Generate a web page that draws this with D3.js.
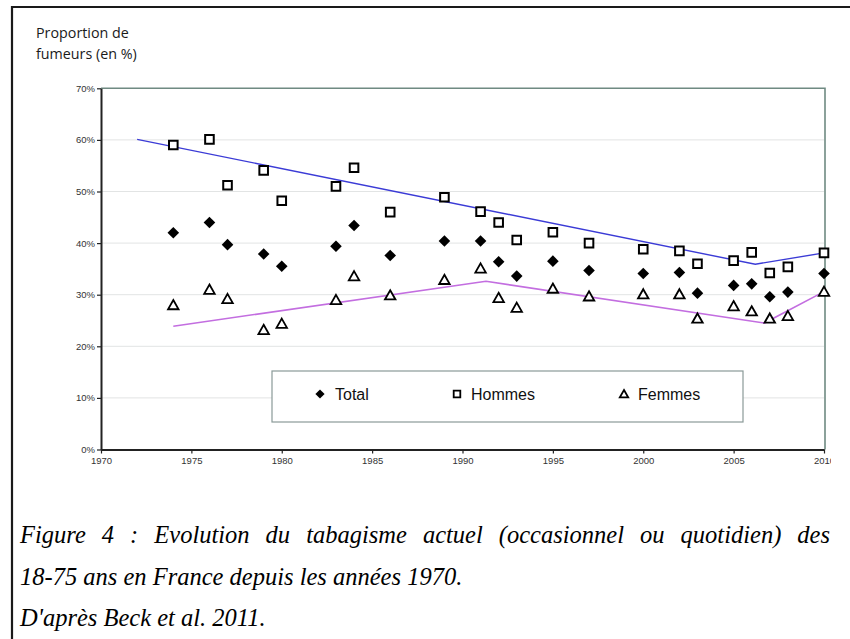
<!DOCTYPE html>
<html><head><meta charset="utf-8">
<script src="https://cdn.jsdelivr.net/npm/d3@7"></script>
<style>
html,body{margin:0;padding:0;background:#fff;}
svg{display:block;}
</style></head>
<body>
<svg id="chart" width="850" height="639"></svg>
<script>
// ---- data ----
const years = [1974,1976,1977,1979,1980,1983,1984,1986,1989,1991,1992,1993,1995,1997,2000,2002,2003,2005,2006,2007,2008,2010];
const total = [42,44,39.7,37.9,35.5,39.4,43.4,37.6,40.4,40.4,36.4,33.6,36.5,34.7,34.1,34.3,30.3,31.8,32.1,29.6,30.5,34.1];
const hommes = [59,60.1,51.2,54.1,48.2,51,54.6,46,48.9,46.1,44,40.6,42.1,40,38.8,38.5,36,36.6,38.2,34.2,35.4,38.1];
const femmes = [28,31,29.2,23.2,24.4,29,33.6,29.9,32.9,35.1,29.4,27.5,31.2,29.7,30.1,30.1,25.4,27.8,26.8,25.4,25.9,30.6];
const hommesTrendYears = [1972,2006.2,2010];
const hommesTrend = [60.1,35.9,38.1];
const femmesTrendYears = [1974,1991.3,2006.7,2010];
const femmesTrend = [23.9,32.6,24.5,30.6];
const xTicks = [1970,1975,1980,1985,1990,1995,2000,2005,2010];
const yTicks = [0,10,20,30,40,50,60,70];
const legendLabels = ["Total","Hommes","Femmes"];
const yTitle = ["Proportion de","fumeurs (en %)"];
const caption = ["Figure 4 : Evolution du tabagisme actuel (occasionnel ou quotidien) des",
                 "18-75 ans en France depuis les années 1970.",
                 "D'après Beck et al. 2011."];

const svg = d3.select("#chart");
const x = d3.scaleLinear().domain([1970,2010]).range([101,824]);
const y = d3.scaleLinear().domain([0,70]).range([449.5,88.3]);

// outer frame
svg.append("line").attr("x1",12).attr("x2",850).attr("y1",7).attr("y2",7).attr("stroke","#1a1a1a").attr("stroke-width",2.2);
svg.append("line").attr("x1",12).attr("x2",12).attr("y1",6).attr("y2",639).attr("stroke","#1a1a1a").attr("stroke-width",2.2);

svg.append("defs").append("clipPath").attr("id","c").append("rect")
  .attr("x",14).attr("y",9).attr("width",817).attr("height",500);
const g = svg.append("g").attr("clip-path","url(#c)");

// y title
g.append("text").attr("font-family","Open Sans").attr("font-size",14.3).attr("fill","#1a1a1a")
  .selectAll("tspan").data(yTitle).join("tspan")
  .attr("x",36).attr("y",(d,i)=>38+i*20.5).text(d=>d);

// gridlines
g.append("g").selectAll("line").data(yTicks.filter(d=>d>0 && d<70)).join("line")
  .attr("x1",x(1970)).attr("x2",x(2010)).attr("y1",d=>y(d)).attr("y2",d=>y(d))
  .attr("stroke","#e2e4e4").attr("stroke-width",1);

// plot frame top/right
g.append("path").attr("d",`M${x(1970)},${y(70)}H${x(2010)+1}V${y(0)}`)
  .attr("fill","none").attr("stroke","#6f8a82").attr("stroke-width",1.6);

// axes
const ya = g.append("g").attr("transform",`translate(${x(1970)},0)`)
  .call(d3.axisLeft(y).tickValues(yTicks).tickSize(4).tickSizeOuter(0).tickFormat(d=>d+"%"));
ya.select(".domain").attr("stroke","#222").attr("stroke-width",2);
ya.selectAll(".tick line").attr("stroke","#222").attr("stroke-width",1.2);
ya.selectAll(".tick text").attr("font-family","Liberation Sans").attr("font-size",9.5).attr("fill","#333").attr("x",-6);

const xa = g.append("g").attr("transform",`translate(0,${y(0)})`)
  .call(d3.axisBottom(x).tickValues(xTicks).tickSize(4).tickSizeOuter(0).tickFormat(d=>String(d)));
xa.select(".domain").attr("stroke","#222").attr("stroke-width",2);
xa.selectAll(".tick line").attr("stroke","#222").attr("stroke-width",1.2);
xa.selectAll(".tick text").attr("font-family","Liberation Sans").attr("font-size",9.5).attr("fill","#333").attr("y",8);

// trend lines
const line = d3.line().x(d=>x(d[0])).y(d=>y(d[1]));
g.append("path").attr("d",line(d3.zip(hommesTrendYears,hommesTrend)))
  .attr("fill","none").attr("stroke","#3b3bd6").attr("stroke-width",1.4);
g.append("path").attr("d",line(d3.zip(femmesTrendYears,femmesTrend)))
  .attr("fill","none").attr("stroke","#c36ee0").attr("stroke-width",1.6);

// markers
function diamond(s){return `M0,${-s}L${s},0L0,${s}L${-s},0Z`;}
function square(s){return `M${-s},${-s}H${s}V${s}H${-s}Z`;}
function tri(s){return `M0,${-s}L${s*1.05},${s*0.85}H${-s*1.05}Z`;}

g.append("g").selectAll("path").data(d3.zip(years,total)).join("path")
  .attr("transform",d=>`translate(${x(d[0])},${y(d[1])})`).attr("d",diamond(5.8)).attr("fill","#000");
g.append("g").selectAll("path").data(d3.zip(years,hommes)).join("path")
  .attr("transform",d=>`translate(${x(d[0])},${y(d[1])})`).attr("d",square(4.3))
  .attr("fill","#fff").attr("stroke","#000").attr("stroke-width",2);
g.append("g").selectAll("path").data(d3.zip(years,femmes)).join("path")
  .attr("transform",d=>`translate(${x(d[0])},${y(d[1])})`).attr("d",tri(5))
  .attr("fill","#fff").attr("stroke","#000").attr("stroke-width",1.8).attr("stroke-linejoin","miter");

// legend
const lg = g.append("g");
lg.append("rect").attr("x",272).attr("y",371).attr("width",471).attr("height",51)
  .attr("fill","#fff").attr("stroke","#8a9a98").attr("stroke-width",1.2);
const legX = [320,457,624];
const legShapes = [diamond(4.6),square(3.3),tri(4)];
legendLabels.forEach((lab,i)=>{
  const it = lg.append("g").attr("transform",`translate(${legX[i]},394)`);
  it.append("path").attr("d",legShapes[i])
    .attr("fill",i===0?"#000":"#fff").attr("stroke","#000").attr("stroke-width",i===0?0:1.8);
  it.append("text").attr("x",i===0?15:14).attr("y",5.5).attr("font-family","Liberation Sans")
    .attr("font-size",16).attr("fill","#111").text(lab);
});

// caption (first line justified via word spacing, as in the source document)
const cap = svg.append("g").selectAll("text").data(caption).join("text")
  .attr("x",20).attr("y",(d,i)=>543+i*41.5)
  .attr("font-family","Liberation Serif").attr("font-style","italic")
  .attr("font-size",24.5).attr("fill","#000")
  .text(d=>d);
cap.filter((d,i)=>i===0).each(function(d){
  const len = this.getComputedTextLength();
  const spaces = (d.match(/ /g)||[]).length;
  d3.select(this).attr("word-spacing", Math.max(0,(810-len)/spaces));
});
</script>
</body></html>
